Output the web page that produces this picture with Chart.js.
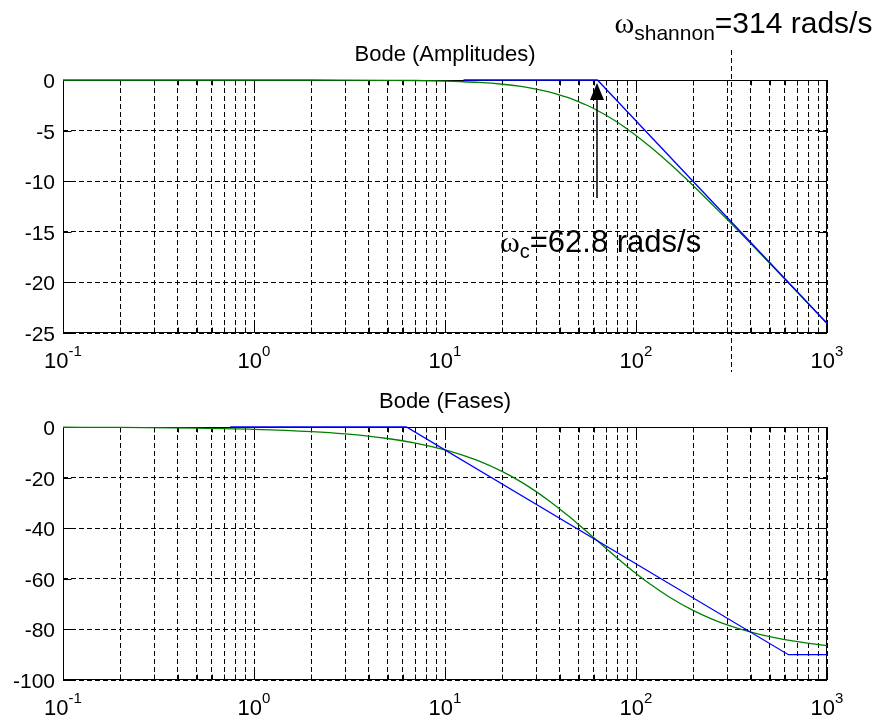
<!DOCTYPE html>
<html>
<head>
<meta charset="utf-8">
<script src="https://cdn.jsdelivr.net/npm/chart.js@4.4.1/dist/chart.umd.min.js"></script>
<style>
    html, body { margin: 0; padding: 0; background: #fff; }
    #wrap { position: relative; width: 888px; height: 722px; }
    canvas { position: absolute; left: 0; }
</style>
</head>
<body>
<div id="wrap">
    <canvas id="chart-amp" width="888" height="380" style="top:0px"></canvas>
    <canvas id="chart-fase" width="888" height="342" style="top:380px"></canvas>
</div>
<script>
// --- Datos ---
const freqVerde = [0.1, 0.2, 0.5, 1, 2, 3, 5, 7, 10, 12, 15, 20, 25, 30, 35, 40, 45, 50, 55, 62.8, 70, 80, 90, 100, 120, 150, 200, 250, 300, 400, 500, 700, 1000];
const ampVerde  = [0, 0, 0, 0, 0, -0.01, -0.03, -0.05, -0.11, -0.16, -0.24, -0.42, -0.64, -0.90, -1.18, -1.50, -1.80, -2.14, -2.47, -3.01, -3.51, -4.18, -4.85, -5.48, -6.68, -8.26, -10.47, -12.27, -13.77, -16.19, -18.09, -20.98, -24.06];
const faseVerde = [-0.09, -0.18, -0.46, -0.91, -1.82, -2.74, -4.55, -6.36, -9.05, -10.82, -13.43, -17.66, -21.70, -25.53, -29.13, -32.50, -35.62, -38.53, -41.21, -45.0, -48.10, -51.87, -55.10, -57.87, -62.38, -67.28, -72.57, -75.90, -78.18, -81.08, -82.84, -84.87, -86.41];

const freqAzulAmp  = [12.5, 62.8, 1000];
const ampAzul      = [0, 0, -24.04];
const freqAzulFase = [0.75, 6.28, 628, 1000];
const faseAzul     = [0, 0, -90, -90];

const ticksAmp  = [0, -5, -10, -15, -20, -25];
const ticksFase = [0, -20, -40, -60, -80, -100];
const decadas   = [0.1, 1, 10, 100, 1000];
const expDecadas = ['-1', '0', '1', '2', '3'];
const multMenores = [2, 3, 4, 5, 6, 7, 8, 9];

const wc = 62.8;        // frecuencia de corte
const wShannon = 314;   // frecuencia de Shannon

const AZUL = '#0000ff';
const VERDE = '#008000';
const SANS = '"Liberation Sans", Arial, sans-serif';

// todas las lineas de grid en x (decadas + 2..9)
const gridX = [];
decadas.forEach((d, i) => {
    gridX.push(d);
    if (i < decadas.length - 1) multMenores.forEach(m => gridX.push(+(d * m).toPrecision(3)));
});

function puntos(xs, ys) {
    return xs.map((x, i) => ({ x: x, y: ys[i] }));
}

// Plugin estilo MATLAB: fondo, caja, marcas, etiquetas, titulo
function estiloMatlab(titulo, yTitulo, ticksY) {
    return {
        id: 'estiloMatlab',
        beforeDraw(chart) {
            const ctx = chart.ctx;
            ctx.save();
            ctx.fillStyle = '#fff';
            ctx.fillRect(0, 0, chart.width, chart.height);
            ctx.restore();
        },
        beforeDatasetsDraw(chart) {
            const ctx = chart.ctx;
            const a = chart.chartArea;
            const sx = chart.scales.x, sy = chart.scales.y;
            const L = Math.round(a.left) + 0.5, R = Math.round(a.right) - 0.5;
            const T = Math.round(a.top) + 0.5, B = Math.round(a.bottom) - 0.5;
            ctx.save();
            ctx.strokeStyle = '#000';
            ctx.lineWidth = 1;
            ctx.setLineDash([]);
            ctx.strokeRect(L, T, R - L, B - T);
            ctx.beginPath();
            gridX.forEach(v => {
                const px = Math.round(sx.getPixelForValue(v)) + 0.5;
                const len = decadas.includes(v) ? 8 : 5;
                ctx.moveTo(px, B); ctx.lineTo(px, B - len);
                ctx.moveTo(px, T); ctx.lineTo(px, T + len);
            });
            ticksY.forEach(v => {
                const py = Math.round(sy.getPixelForValue(v)) + 0.5;
                ctx.moveTo(L, py); ctx.lineTo(L + 8, py);
                ctx.moveTo(R, py); ctx.lineTo(R - 8, py);
            });
            ctx.stroke();
            ctx.restore();
        },
        afterDraw(chart) {
            const ctx = chart.ctx;
            const a = chart.chartArea;
            const sx = chart.scales.x, sy = chart.scales.y;
            ctx.save();
            ctx.fillStyle = '#000';
            // titulo
            ctx.font = '22px ' + SANS;
            ctx.textAlign = 'center';
            ctx.textBaseline = 'alphabetic';
            ctx.fillText(titulo, (a.left + a.right) / 2, yTitulo);
            // etiquetas eje y
            ctx.font = '21px ' + SANS;
            ctx.textAlign = 'right';
            ticksY.forEach(v => {
                ctx.fillText(String(v), a.left - 8, sy.getPixelForValue(v) + 8);
            });
            // etiquetas eje x: 10 con exponente
            ctx.textAlign = 'left';
            decadas.forEach((d, i) => {
                const px = sx.getPixelForValue(d);
                ctx.font = '22px ' + SANS;
                const wBase = ctx.measureText('10').width;
                ctx.font = '15px ' + SANS;
                const wExp = ctx.measureText(expDecadas[i]).width;
                const x0 = px - (wBase + wExp) / 2;
                const yb = a.bottom + 35;
                ctx.font = '22px ' + SANS;
                ctx.fillText('10', x0, yb);
                ctx.font = '15px ' + SANS;
                ctx.fillText(expDecadas[i], x0 + wBase, yb - 12);
            });
            ctx.restore();
        }
    };
}

// Anotaciones del grafico de amplitudes (flecha wc y linea de Shannon)
const anotaciones = {
    id: 'anotaciones',
    afterDraw(chart) {
        const ctx = chart.ctx;
        const sx = chart.scales.x, sy = chart.scales.y;
        ctx.save();
        ctx.strokeStyle = '#000';
        ctx.fillStyle = '#000';

        // linea vertical Shannon
        const xs = Math.round(sx.getPixelForValue(wShannon)) + 0.5;
        ctx.lineWidth = 1;
        ctx.setLineDash([5, 3]);
        ctx.beginPath();
        ctx.moveTo(xs, 50);
        ctx.lineTo(xs, 372);
        ctx.stroke();
        ctx.setLineDash([]);

        // flecha wc
        const xc = Math.round(sx.getPixelForValue(wc));
        const y0 = sy.getPixelForValue(0);
        ctx.lineWidth = 1.5;
        ctx.beginPath();
        ctx.moveTo(xc, y0 + 118);
        ctx.lineTo(xc, y0 + 18);
        ctx.stroke();
        ctx.beginPath();
        ctx.moveTo(xc, y0 + 3);
        ctx.lineTo(xc - 7, y0 + 20);
        ctx.lineTo(xc + 7, y0 + 20);
        ctx.closePath();
        ctx.fill();

        // texto Shannon
        let x = xs - 117;
        ctx.textAlign = 'left';
        ctx.textBaseline = 'alphabetic';
        ctx.font = '30px "Liberation Serif", serif';
        ctx.fillText('ω', x, 33);
        x += ctx.measureText('ω').width;
        ctx.font = '21px ' + SANS;
        ctx.fillText('shannon', x, 40);
        x += ctx.measureText('shannon').width;
        ctx.font = '30px ' + SANS;
        ctx.fillText('=314 rads/s', x, 33);

        // texto wc
        x = xc - 97;
        ctx.font = '30px "Liberation Serif", serif';
        ctx.fillText('ω', x, 252);
        x += ctx.measureText('ω').width;
        ctx.font = '20px ' + SANS;
        ctx.fillText('c', x, 258);
        x += ctx.measureText('c').width;
        ctx.font = '31px ' + SANS;
        ctx.fillText('=62.8 rads/s', x, 252);
        ctx.restore();
    }
};

function opcionesEjes(yMin, yMax, ticksY) {
    return {
        x: {
            type: 'logarithmic',
            min: 0.1,
            max: 1000,
            afterBuildTicks: s => { s.ticks = gridX.map(v => ({ value: v })); },
            afterFit: s => { s.height = 0; },
            grid: { color: '#000', lineWidth: 1, drawTicks: false },
            border: { display: false, dash: [5, 3] },
            ticks: { display: false }
        },
        y: {
            type: 'linear',
            min: yMin,
            max: yMax,
            afterBuildTicks: s => { s.ticks = ticksY.map(v => ({ value: v })); },
            afterFit: s => { s.width = 0; },
            grid: { color: '#000', lineWidth: 1, drawTicks: false },
            border: { display: false, dash: [5, 3] },
            ticks: { display: false }
        }
    };
}

function crearBode(idCanvas, datosAzul, datosVerde, yMin, ticksY, padding, titulo, yTitulo, extra) {
    const canvas = document.getElementById(idCanvas);
    return new Chart(canvas, {
        type: 'line',
        data: {
            datasets: [
                { label: 'Asintotica', data: datosAzul, borderColor: AZUL, borderWidth: 1.3, pointRadius: 0, tension: 0, clip: false },
                { label: 'Real', data: datosVerde, borderColor: VERDE, borderWidth: 1.3, pointRadius: 0, cubicInterpolationMode: 'monotone', clip: false }
            ]
        },
        options: {
            responsive: false,
            animation: false,
            devicePixelRatio: 1,
            layout: { padding: padding },
            plugins: { legend: { display: false }, tooltip: { enabled: false }, title: { display: false } },
            scales: opcionesEjes(yMin, 0, ticksY)
        },
        plugins: [estiloMatlab(titulo, yTitulo, ticksY)].concat(extra)
    });
}

crearBode('chart-amp',
    puntos(freqAzulAmp, ampAzul), puntos(freqVerde, ampVerde),
    -25, ticksAmp,
    { left: 63, top: 80, right: 61, bottom: 47 },
    'Bode (Amplitudes)', 61, [anotaciones]);

crearBode('chart-fase',
    puntos(freqAzulFase, faseAzul), puntos(freqVerde, faseVerde),
    -100, ticksFase,
    { left: 63, top: 47, right: 61, bottom: 42 },
    'Bode (Fases)', 28, []);
</script>
</body>
</html>
